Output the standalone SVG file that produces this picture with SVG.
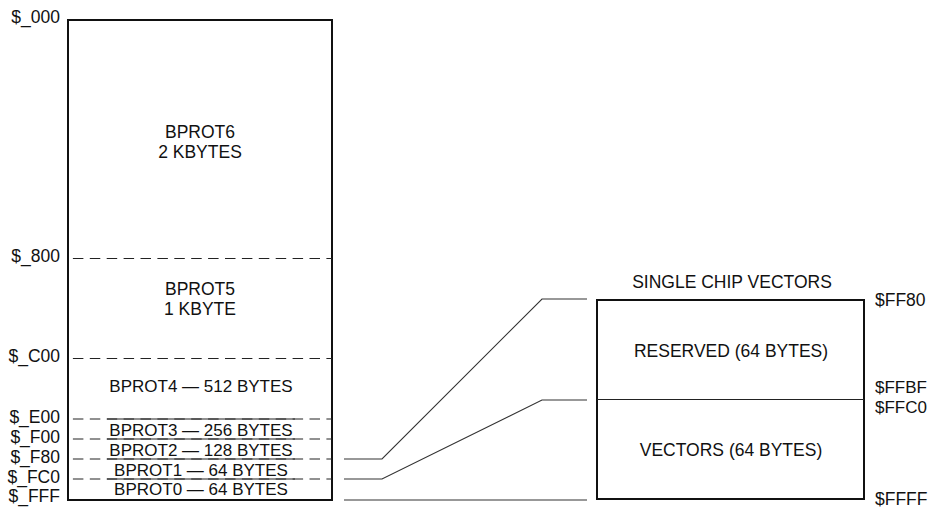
<svg xmlns="http://www.w3.org/2000/svg" width="933" height="508" viewBox="0 0 933 508">
<style>
text{font-family:"Liberation Sans",Arial,Helvetica,sans-serif;font-size:17.5px;fill:#111}
.c{text-anchor:middle}
.e{text-anchor:end}
.s{font-size:17px}
.box{fill:#fff;stroke:#111;stroke-width:2}
.dash{stroke:#222;stroke-width:1;stroke-dasharray:10.5 6.4;stroke-dashoffset:12;fill:none}
.solid{stroke:#222;stroke-width:1;fill:none}
.conn{stroke:#333;stroke-width:1.1;fill:none}
</style>
<rect width="933" height="508" fill="#fff"/>
<g id="memory-map">
<rect class="box" x="68" y="20" width="264" height="480"/>
<line class="dash" x1="68" y1="258.5" x2="332" y2="258.5"/>
<line class="dash" x1="68" y1="358.5" x2="332" y2="358.5"/>
<line class="dash" x1="68" y1="419" x2="332" y2="419"/>
<line class="dash" x1="68" y1="439" x2="332" y2="439"/>
<line class="dash" x1="68" y1="459" x2="332" y2="459"/>
<line class="dash" x1="68" y1="479" x2="332" y2="479"/>
<line class="solid" x1="107" y1="419" x2="295" y2="419"/>
<line class="solid" x1="107" y1="439" x2="295" y2="439"/>
<line class="solid" x1="107" y1="459" x2="295" y2="459"/>
<line class="solid" x1="107" y1="479" x2="295" y2="479"/>
<text class="e" x="60" y="23">$_000</text>
<text class="e" x="60" y="262">$_800</text>
<text class="e" x="60" y="362">$_C00</text>
<text class="e" x="60" y="423">$_E00</text>
<text class="e" x="60" y="443">$_F00</text>
<text class="e" x="60" y="463">$_F80</text>
<text class="e" x="60" y="483">$_FC0</text>
<text class="e" x="60" y="502">$_FFF</text>
<g id="bprot6"><text class="c" x="200" y="137.5">BPROT6</text><text class="c" x="200" y="158">2 KBYTES</text></g>
<g id="bprot5"><text class="c" x="200" y="295">BPROT5</text><text class="c" x="200" y="315">1 KBYTE</text></g>
<g id="bprot4"><text class="c s" x="201" y="392">BPROT4 — 512 BYTES</text></g>
<g id="bprot3"><text class="c s" x="201" y="436">BPROT3 — 256 BYTES</text></g>
<g id="bprot2"><text class="c s" x="201" y="456">BPROT2 — 128 BYTES</text></g>
<g id="bprot1"><text class="c s" x="201" y="476">BPROT1 — 64 BYTES</text></g>
<g id="bprot0"><text class="c s" x="201" y="495">BPROT0 — 64 BYTES</text></g>
</g>
<g id="connectors">
<polyline class="conn" points="344,459 382,459 542,299 587,299"/>
<polyline class="conn" points="344,479 382,479 542,400 587,400"/>
<line class="conn" x1="344" y1="500" x2="587" y2="500"/>
</g>
<g id="vectors-box">
<text class="c" x="732" y="288">SINGLE CHIP VECTORS</text>
<rect class="box" x="597" y="300" width="267" height="199"/>
<line class="solid" x1="597" y1="399.5" x2="864" y2="399.5"/>
<g id="reserved"><text class="c" x="731" y="357">RESERVED (64 BYTES)</text></g>
<g id="vectors"><text class="c" x="731" y="456">VECTORS (64 BYTES)</text></g>
<text x="875" y="306">$FF80</text>
<text class="s" x="875" y="393">$FFBF</text>
<text class="s" x="875" y="413">$FFC0</text>
<text x="875" y="505">$FFFF</text>
</g>
</svg>
